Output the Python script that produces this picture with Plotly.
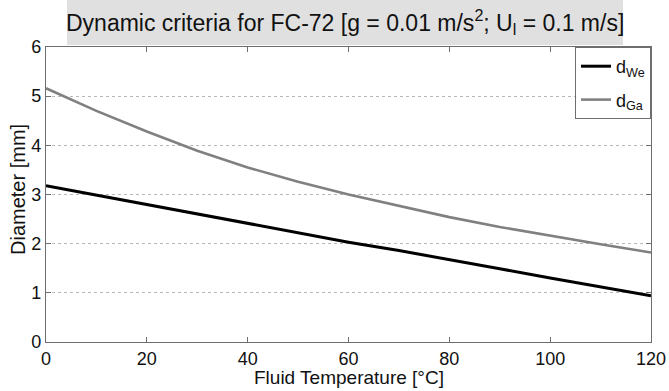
import plotly.graph_objects as go

temperature = [0, 10, 20, 30, 40, 50, 60, 70, 80, 90, 100, 110, 120]
d_we = [3.18, 2.99, 2.79, 2.60, 2.41, 2.22, 2.03, 1.86, 1.68, 1.49, 1.30, 1.12, 0.94]
d_ga = [5.16, 4.70, 4.28, 3.89, 3.55, 3.26, 3.00, 2.77, 2.54, 2.34, 2.16, 1.99, 1.82]

x_ticks = [0, 20, 40, 60, 80, 100, 120]
y_ticks = [0, 1, 2, 3, 4, 5, 6]

FONT = "Liberation Sans, Arial, sans-serif"
AXIS_COLOR = "#6e6e6e"
TEXT_COLOR = "#111111"

fig = go.Figure()
fig.add_trace(go.Scatter(x=temperature, y=d_we, mode="lines", name="d<sub>We</sub>",
                         legendgroup="we", line=dict(color="#000000", width=3)))
fig.add_trace(go.Scatter(x=temperature, y=d_ga, mode="lines", name="d<sub>Ga</sub>",
                         legendgroup="ga", line=dict(color="#808080", width=2.6)))

fig.update_layout(
    width=669, height=391,
    margin=dict(l=46, r=18, t=47, b=49),
    paper_bgcolor="white", plot_bgcolor="white",
    font=dict(family=FONT, color=TEXT_COLOR, size=18),
    showlegend=True,
    legend=dict(x=1.0, xanchor="right", y=1.0, yanchor="top",
                bgcolor="white", bordercolor=AXIS_COLOR, borderwidth=1,
                font=dict(size=18, family=FONT, color=TEXT_COLOR),
                tracegroupgap=7, itemwidth=30),
    xaxis=dict(range=[0, 120], tickvals=x_ticks, ticks="inside", ticklen=5,
               tickcolor=AXIS_COLOR, showline=True, linecolor=AXIS_COLOR, linewidth=1.2,
               mirror="ticks", showgrid=False, zeroline=False, automargin=False,
               tickfont=dict(size=18)),
    yaxis=dict(range=[0, 6], tickvals=y_ticks, ticks="inside", ticklen=5,
               tickcolor=AXIS_COLOR, showline=True, linecolor=AXIS_COLOR, linewidth=1.2,
               mirror="ticks", showgrid=True, gridcolor="#b8b8b8", griddash="dot",
               gridwidth=1, zeroline=False, automargin=False,
               tickfont=dict(size=18)),
)

# axis titles
fig.add_annotation(xref="paper", yref="paper", x=0.5, y=-0.1203,
                   xanchor="center", yanchor="middle", showarrow=False,
                   text="Fluid Temperature [°C]", font=dict(size=19, family=FONT, color=TEXT_COLOR))
fig.add_annotation(xref="paper", yref="paper", x=-0.0463, y=0.5186,
                   xanchor="center", yanchor="middle", showarrow=False, textangle=-90,
                   text="Diameter [mm]", font=dict(size=20, family=FONT, color=TEXT_COLOR))

# title box
fig.add_shape(type="rect", xref="paper", yref="paper",
              x0=0.0347, x1=0.9537, y0=1.0068, y1=1.159,
              fillcolor="#e0e0e0", line=dict(width=0), layer="below")
fig.add_annotation(xref="paper", yref="paper", x=0.4934, y=1.0847,
                   xanchor="center", yanchor="middle", showarrow=False,
                   text="Dynamic criteria for FC-72 [g = 0.01 m/s<sup>2</sup>; U<sub>l</sub> = 0.1 m/s]",
                   font=dict(size=23, family=FONT, color=TEXT_COLOR))

fig.write_html("out.html")
